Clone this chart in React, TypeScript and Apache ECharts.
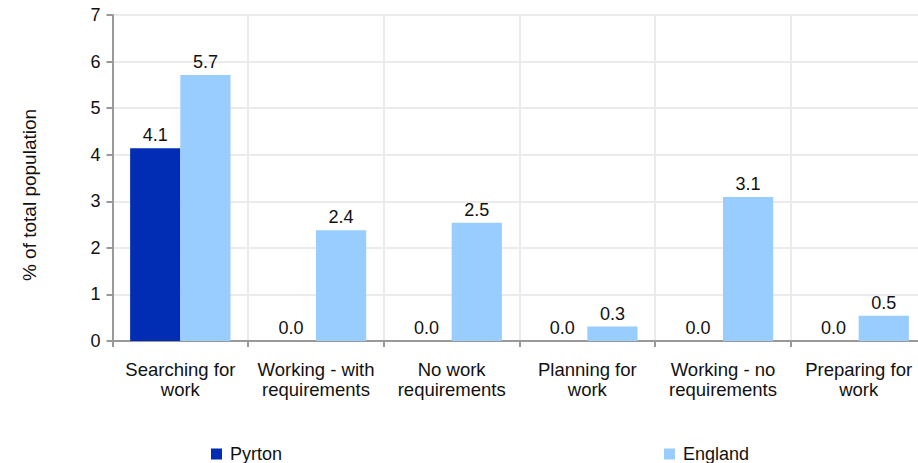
import React, { useEffect, useRef } from "react";
import * as echarts from "echarts";

const categories = [
  "Searching for\nwork",
  "Working - with\nrequirements",
  "No work\nrequirements",
  "Planning for\nwork",
  "Working - no\nrequirements",
  "Preparing for\nwork",
];
const pyrton = [4.14, 0, 0, 0, 0, 0];
const england = [5.71, 2.38, 2.54, 0.31, 3.09, 0.54];
const yTicks = [0, 1, 2, 3, 4, 5, 6, 7];
const seriesNames = ["Pyrton", "England"];
const yAxisTitle = "% of total population";

const FONT = "Liberation Sans, Arial, sans-serif";

export default function App() {
  const ref = useRef<HTMLDivElement>(null);
  useEffect(() => {
    if (!ref.current) return;
    const chart = echarts.init(ref.current, null, { renderer: "svg" });
    const labelCfg = {
      show: true,
      position: "top" as const,
      distance: 4,
      color: "#111",
      fontSize: 18,
      fontFamily: FONT,
      formatter: (p: any) => Number(p.value).toFixed(1),
    };
    const legendBase = {
      top: 445,
      padding: 0,
      itemWidth: 11,
      itemHeight: 11,
      icon: "rect",
      textStyle: { fontSize: 18, color: "#111", fontFamily: FONT, padding: [0, 0, 0, 3] },
    };
    chart.setOption({
      animation: false,
      textStyle: { fontFamily: FONT },
      grid: {
        left: 112.5,
        width: 814,
        top: 15,
        height: 326,
        containLabel: false,
        outerBoundsMode: "none",
      },
      legend: [
        { ...legendBase, data: [seriesNames[0]], left: 211 },
        { ...legendBase, data: [seriesNames[1]], left: 664 },
      ],
      graphic: [
        {
          type: "text",
          x: 29,
          y: 195,
          rotation: Math.PI / 2,
          style: {
            text: yAxisTitle,
            fontSize: 19,
            fill: "#111",
            fontFamily: FONT,
            align: "center",
            verticalAlign: "middle",
          },
        },
      ],
      xAxis: {
        type: "category",
        data: categories,
        axisLine: { lineStyle: { color: "#999", width: 2 } },
        axisTick: { show: true, length: 6, lineStyle: { color: "#999", width: 2 } },
        splitLine: { show: true, lineStyle: { color: "#ebebeb", width: 2 } },
        axisLabel: {
          interval: 0,
          margin: 18,
          fontSize: 18.5,
          lineHeight: 20,
          color: "#111",
          fontFamily: FONT,
        },
      },
      yAxis: {
        type: "value",
        min: yTicks[0],
        max: yTicks[yTicks.length - 1],
        interval: 1,
        axisLine: { show: true, lineStyle: { color: "#999", width: 2 } },
        axisTick: { show: true, length: 6, lineStyle: { color: "#999", width: 2 } },
        splitLine: { show: true, lineStyle: { color: "#ebebeb", width: 2 } },
        axisLabel: { margin: 12, fontSize: 18, color: "#111", fontFamily: FONT },
      },
      series: [
        {
          name: seriesNames[0],
          type: "bar",
          data: pyrton,
          itemStyle: { color: "#002db3" },
          barGap: "0%",
          barCategoryGap: "26%",
          label: labelCfg,
        },
        {
          name: seriesNames[1],
          type: "bar",
          data: england,
          itemStyle: { color: "#99ccff" },
          barGap: "0%",
          barCategoryGap: "26%",
          label: labelCfg,
        },
      ],
    });
    return () => chart.dispose();
  }, []);
  return (
    <div
      ref={ref}
      style={{ position: "fixed", left: 0, top: 0, width: 918, height: 463, background: "#fff" }}
    />
  );
}
